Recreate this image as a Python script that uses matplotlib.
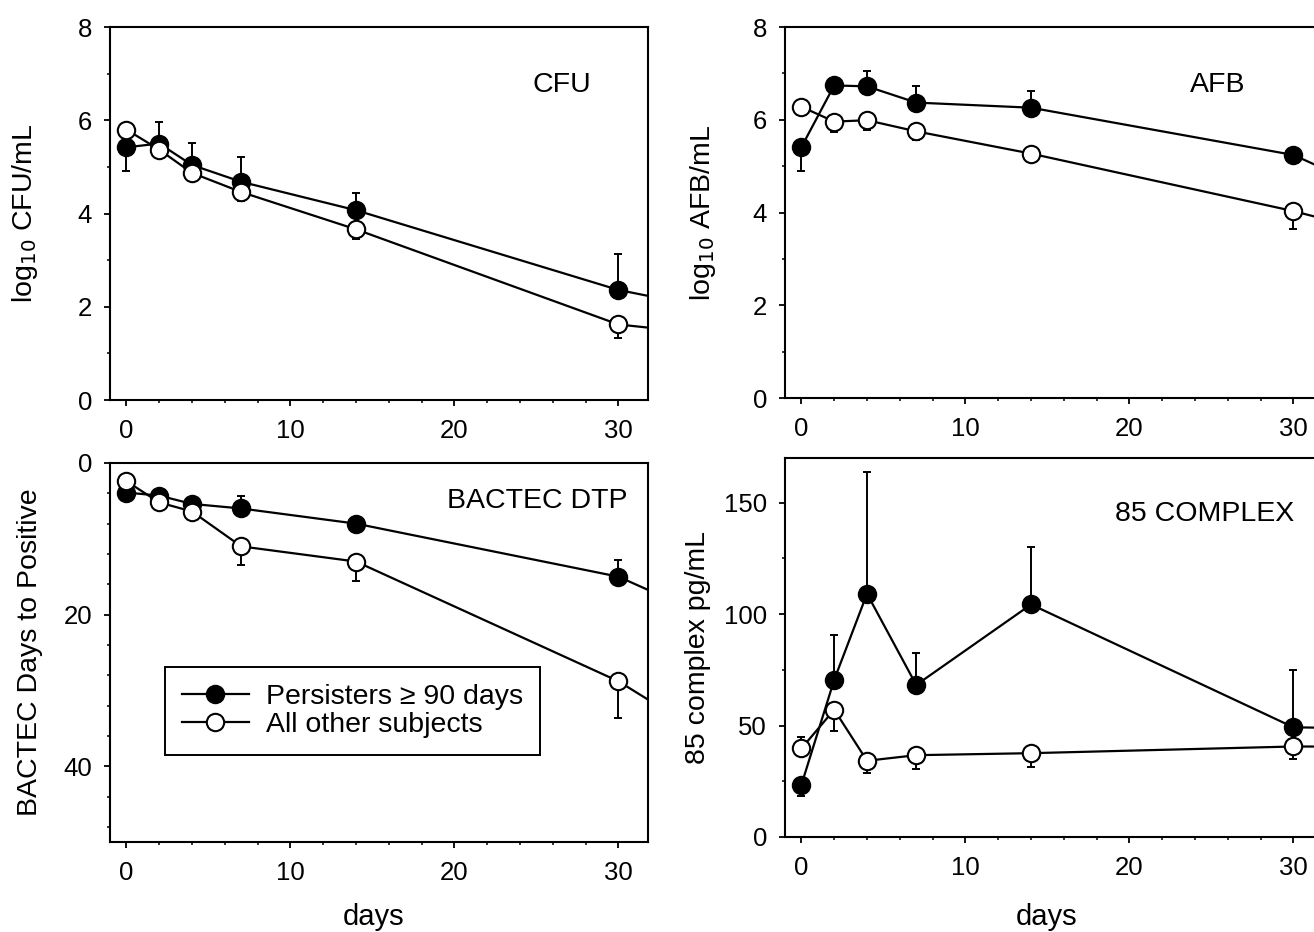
import matplotlib
matplotlib.use("Agg")
import matplotlib.pyplot as plt
from matplotlib.ticker import MultipleLocator

plt.rcParams['font.family'] = ['Liberation Sans', 'DejaVu Sans']
plt.rcParams['font.size'] = 18

# sampling days (last one lies past the visible x range)
days = [0, 2, 4, 7, 14, 30, 60]

# log10 CFU/mL
cfu_pers = [5.42, 5.50, 5.04, 4.68, 4.07, 2.36, 0.25]
cfu_pers_lo = [0.50, 0, 0, 0, 0, 0, 0]
cfu_pers_hi = [0, 0.46, 0.48, 0.54, 0.36, 0.78, 0]
cfu_other = [5.80, 5.37, 4.87, 4.46, 3.66, 1.62, 0.50]
cfu_other_lo = [0, 0.17, 0, 0.19, 0.21, 0.28, 0]
cfu_other_hi = [0, 0, 0, 0, 0, 0, 0]

# log10 AFB/mL
afb_pers = [5.41, 6.74, 6.72, 6.37, 6.26, 5.24, 0.45]
afb_pers_lo = [0.52, 0, 0, 0, 0, 0, 0]
afb_pers_hi = [0, 0, 0.34, 0.35, 0.36, 0, 0]
afb_other = [6.28, 5.96, 5.99, 5.75, 5.27, 4.03, 1.30]
afb_other_lo = [0, 0.23, 0.22, 0.19, 0.17, 0.39, 0]
afb_other_hi = [0, 0, 0, 0, 0, 0, 0]

# BACTEC days to positive
dtp_pers = [3.9, 4.3, 5.4, 6.0, 8.0, 15.0, 44.0]
dtp_pers_lo = [1.0, 0.9, 0.8, 1.7, 0.4, 2.2, 0]
dtp_pers_hi = [0, 0, 0, 0, 0, 0, 0]
dtp_other = [2.4, 5.2, 6.4, 11.0, 13.0, 28.8, 69.0]
dtp_other_lo = [0, 0, 0, 0, 0, 0, 0]
dtp_other_hi = [0, 0, 0, 2.5, 2.6, 4.9, 0]

# 85 complex pg/mL
c85_pers = [23.4, 70.5, 109.1, 68.2, 104.3, 49.2, 46.0]
c85_pers_lo = [5.0, 0, 0, 0, 0, 0, 0]
c85_pers_hi = [0, 20.0, 54.5, 14.4, 25.8, 25.5, 0]
c85_other = [39.7, 57.1, 34.2, 36.7, 37.6, 40.6, 40.0]
c85_other_lo = [0, 9.4, 5.6, 6.0, 6.4, 5.7, 0]
c85_other_hi = [5.3, 0, 0, 0, 0, 0, 0]

W, H = 1314, 932
fig = plt.figure(figsize=(W / 100, H / 100), dpi=100)

LABEL_FS = 20.5


def px_axes(left, top, right, bottom):
    return fig.add_axes([left / W, 1 - bottom / H, (right - left) / W, (bottom - top) / H])


def draw(ax, pers, pers_lo, pers_hi, other, other_lo, other_hi):
    ax.errorbar(days, pers, yerr=[pers_lo, pers_hi], fmt='none', ecolor='k',
                elinewidth=1.4, capsize=3, capthick=1.4, zorder=2)
    ax.errorbar(days, other, yerr=[other_lo, other_hi], fmt='none', ecolor='k',
                elinewidth=1.4, capsize=3, capthick=1.4, zorder=2)
    l1, = ax.plot(days, pers, '-o', color='k', mfc='k', mec='k', ms=12.5, mew=1.5,
                  lw=1.6, zorder=3, label=u'Persisters \u2265 90 days')
    l2, = ax.plot(days, other, '-o', color='k', mfc='white', mec='k', ms=12.5, mew=1.5,
                  lw=1.6, zorder=4, label='All other subjects')
    ax.set_xlim(-1, 31.8)
    ax.xaxis.set_major_locator(MultipleLocator(10))
    ax.xaxis.set_minor_locator(MultipleLocator(2))
    ax.tick_params(which='major', direction='out', length=4, width=1.3, labelsize=18.5)
    ax.tick_params(axis='x', which='major', pad=10)
    ax.tick_params(axis='y', which='major', pad=9)
    ax.tick_params(which='minor', direction='out', length=2.5, width=1.1)
    for s in ax.spines.values():
        s.set_linewidth(1.5)
    return l1, l2


# top left: CFU
ax1 = px_axes(110, 27, 648, 400)
draw(ax1, cfu_pers, cfu_pers_lo, cfu_pers_hi, cfu_other, cfu_other_lo, cfu_other_hi)
ax1.set_ylim(0, 8)
ax1.yaxis.set_major_locator(MultipleLocator(2))
ax1.yaxis.set_minor_locator(MultipleLocator(1))
ax1.set_ylabel(r'log$_{10}$ CFU/mL', fontsize=LABEL_FS)
ax1.yaxis.set_label_coords(-0.130, 0.5)
ax1.text(0.84, 0.845, 'CFU', transform=ax1.transAxes, ha='center', va='center', fontsize=LABEL_FS)

# top right: AFB
ax2 = px_axes(785, 27, 1323, 398)
draw(ax2, afb_pers, afb_pers_lo, afb_pers_hi, afb_other, afb_other_lo, afb_other_hi)
ax2.set_ylim(0, 8)
ax2.yaxis.set_major_locator(MultipleLocator(2))
ax2.yaxis.set_minor_locator(MultipleLocator(1))
ax2.set_ylabel(r'log$_{10}$ AFB/mL', fontsize=LABEL_FS)
ax2.yaxis.set_label_coords(-0.125, 0.5)
ax2.text(0.805, 0.843, 'AFB', transform=ax2.transAxes, ha='center', va='center', fontsize=LABEL_FS)
ax2.spines['right'].set_visible(False)

# bottom left: BACTEC days to positive (inverted)
ax3 = px_axes(110, 463, 648, 842)
h1, h2 = draw(ax3, dtp_pers, dtp_pers_lo, dtp_pers_hi, dtp_other, dtp_other_lo, dtp_other_hi)
ax3.set_ylim(50, 0)
ax3.yaxis.set_major_locator(MultipleLocator(20))
ax3.yaxis.set_minor_locator(MultipleLocator(4))
ax3.set_ylabel('BACTEC Days to Positive', fontsize=LABEL_FS)
ax3.yaxis.set_label_coords(-0.124, 0.5)
ax3.set_xlabel('days', fontsize=21)
ax3.xaxis.set_label_coords(0.489, -0.160)
ax3.text(0.795, 0.90, 'BACTEC DTP', transform=ax3.transAxes, ha='center', va='center', fontsize=LABEL_FS)
leg = ax3.legend(handles=[h1, h2], loc='upper left', bbox_to_anchor=(0.102, 0.462),
                 borderaxespad=0, fontsize=LABEL_FS, frameon=True, fancybox=False,
                 edgecolor='k', framealpha=1, handlelength=2.35, handletextpad=0.6,
                 labelspacing=0.07, borderpad=0.6, numpoints=1)
leg.get_frame().set_linewidth(1.4)

# bottom right: 85 complex
ax4 = px_axes(785, 458, 1323, 837)
draw(ax4, c85_pers, c85_pers_lo, c85_pers_hi, c85_other, c85_other_lo, c85_other_hi)
ax4.set_ylim(0, 170)
ax4.yaxis.set_major_locator(MultipleLocator(50))
ax4.yaxis.set_minor_locator(MultipleLocator(25))
ax4.set_ylabel('85 complex pg/mL', fontsize=LABEL_FS)
ax4.yaxis.set_label_coords(-0.137, 0.5)
ax4.set_xlabel('days', fontsize=21)
ax4.xaxis.set_label_coords(0.487, -0.173)
ax4.text(0.78, 0.852, '85 COMPLEX', transform=ax4.transAxes, ha='center', va='center', fontsize=LABEL_FS)
ax4.spines['right'].set_visible(False)

fig.savefig('out.png', dpi=100)
